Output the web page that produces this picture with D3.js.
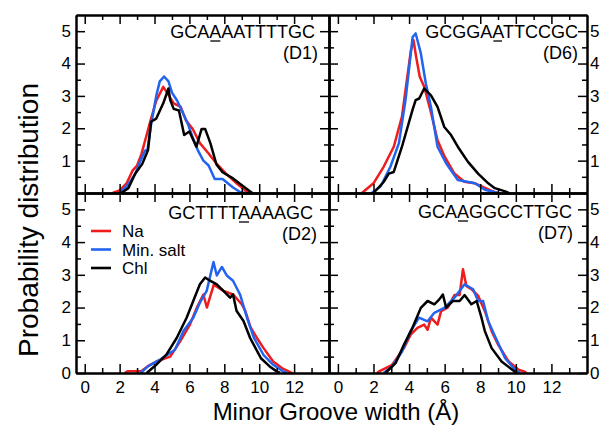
<!DOCTYPE html>
<html>
<head>
<meta charset="utf-8">
<script src="https://cdn.jsdelivr.net/npm/d3@7"></script>
<style>
  body { margin: 0; background: #fff; }
  text { font-family: "Liberation Sans", Arial, sans-serif; fill: #000; }
</style>
</head>
<body>
<div id="chart"></div>
<script>
// minor groove width (Å) vs probability
const d1Na = [[1.6,0],[2.0,0.08],[2.4,0.3],[2.75,0.7],[3.0,0.85],[3.25,1.2],[3.5,1.7],[3.75,2.2],[4.1,2.85],[4.5,3.28],[4.8,3.03],[5.1,2.77],[5.5,2.66],[5.8,2.25],[6.2,1.97],[6.6,1.54],[7.1,1.22],[7.55,0.91],[8.1,0.6],[8.7,0.3],[9.3,0.04],[9.6,0]];
const d1Min = [[2.0,0],[2.3,0.15],[2.6,0.35],[2.9,0.6],[3.2,1.0],[3.45,1.3],[3.6,1.35],[3.8,2.1],[4.1,3.0],[4.3,3.45],[4.55,3.6],[4.8,3.45],[5.0,3.1],[5.3,2.85],[5.6,2.5],[5.9,2.15],[6.2,1.7],[6.5,1.3],[6.8,1.0],[7.1,0.85],[7.45,0.43],[7.9,0.43],[8.5,0.17],[8.9,0.03],[9.2,0]];
const d1Chl = [[2.1,0],[2.5,0.15],[2.9,0.6],[3.3,0.9],[3.63,1.33],[3.8,2.2],[4.1,2.3],[4.5,2.77],[4.8,3.23],[4.9,2.87],[5.1,2.6],[5.4,2.55],[5.7,1.79],[6.0,1.9],[6.4,1.43],[6.7,1.98],[6.9,1.98],[7.2,1.54],[7.55,0.88],[7.9,0.64],[8.5,0.45],[9.1,0.2],[9.6,0]];

const d6Na = [[1.35,0],[2.0,0.3],[2.57,0.81],[3.14,1.43],[3.6,2.36],[3.9,3.59],[4.1,4.4],[4.25,4.72],[4.4,4.2],[4.6,3.59],[4.85,3.28],[5.2,2.56],[5.6,1.63],[6.0,1.12],[6.55,0.6],[7.1,0.35],[7.7,0.3],[8.3,0.15],[8.8,0.03],[9.0,0]];
const d6Min = [[1.9,0],[2.4,0.2],[2.95,0.81],[3.43,1.54],[3.8,2.87],[4.2,4.82],[4.37,4.93],[4.66,4.32],[4.94,3.39],[5.23,2.66],[5.6,1.43],[6.08,0.92],[6.74,0.4],[7.7,0.3],[8.26,0.1],[9.0,0]];
const d6Chl = [[2.0,0],[2.57,0.34],[2.86,0.6],[3.14,0.65],[3.6,1.43],[4.19,2.56],[4.37,2.87],[4.57,2.92],[4.85,3.23],[5.23,3.02],[5.6,2.66],[5.98,2.04],[6.36,1.79],[6.74,1.43],[7.3,0.97],[7.88,0.6],[8.45,0.3],[8.82,0.15],[9.4,0.05],[9.6,0]];

const d2Na = [[2.3,0],[2.45,0.05],[3.26,0.06],[3.6,0.2],[4.1,0.35],[4.9,0.5],[5.46,0.96],[6.03,1.48],[6.42,1.99],[6.8,2.4],[7.0,2.0],[7.4,2.7],[7.95,2.51],[8.5,2.4],[9.0,2.1],[9.2,1.9],[9.5,1.4],[9.87,1.07],[10.25,0.76],[10.8,0.35],[11.3,0.15],[11.8,0.02],[11.9,0]];
const d2Min = [[3.2,0],[3.64,0.21],[4.3,0.4],[5.17,0.71],[5.66,1.28],[6.22,1.69],[6.6,2.15],[6.99,2.51],[7.38,3.39],[7.57,2.98],[7.86,3.24],[8.14,2.98],[8.5,2.82],[8.9,2.4],[9.3,1.69],[9.7,1.07],[10.25,0.55],[10.8,0.25],[11.4,0.04],[11.6,0]];
const d2Chl = [[3.55,0],[4.12,0.26],[4.69,0.57],[5.27,1.07],[5.84,1.69],[6.22,2.2],[6.6,2.71],[6.9,2.92],[7.18,2.82],[7.57,2.71],[7.95,2.51],[8.33,2.3],[8.5,2.4],[8.7,1.9],[9.1,1.59],[9.48,1.07],[10.1,0.45],[10.6,0.2],[11.0,0.05],[11.2,0]];

const d7Na = [[2.2,0],[2.29,0.04],[3.05,0.25],[3.71,0.76],[4.09,1.17],[4.47,1.38],[4.85,1.48],[5.04,1.32],[5.23,1.69],[5.6,1.48],[5.8,1.89],[6.17,2.0],[6.55,2.38],[6.84,2.38],[7.03,3.17],[7.22,2.66],[7.5,2.56],[7.88,2.36],[8.26,1.89],[8.64,1.28],[9.0,0.87],[9.6,0.35],[10.15,0.1],[10.5,0.04],[10.6,0]];
const d7Min = [[2.57,0],[3.05,0.2],[3.6,0.65],[4.09,1.28],[4.56,1.69],[5.04,1.58],[5.42,1.84],[6.0,2.0],[6.55,2.3],[7.12,2.71],[7.6,2.56],[7.88,2.2],[8.16,2.2],[8.45,1.58],[8.83,1.12],[9.4,0.45],[9.96,0.1],[10.25,0]];
const d7Chl = [[2.67,0],[3.24,0.3],[3.71,0.86],[4.19,1.38],[4.66,1.99],[5.04,2.2],[5.42,2.1],[5.7,2.25],[5.9,2.4],[6.08,2.0],[6.46,2.2],[6.84,2.2],[7.12,2.38],[7.5,2.1],[7.8,2.2],[8.07,1.69],[8.26,1.28],[8.64,0.76],[9.2,0.35],[9.8,0.1],[10.05,0]];

const seriesNames = ["Na", "Min. salt", "Chl"];
const colors = ["#ee1c1c", "#2264f0", "#000000"];
const xMajor = [0, 2, 4, 6, 8, 10, 12];
const xMinor = [1, 3, 5, 7, 9, 11, 13];
const yMajorTop = [1, 2, 3, 4, 5];
const yMajorBottom = [0, 1, 2, 3, 4, 5];
const yMinor = [0.5, 1.5, 2.5, 3.5, 4.5];

const width = 603;
const height = 427;

const panels = [
  { seq: "GCAAAATTTTGC", ul: 3, tag: "(D1)", data: [d1Na, d1Min, d1Chl],
    x0: 76, x1: 329, y0: 15, y1: 193, side: "left", yTicks: yMajorTop, showX: false,
    seqX: 315, seqY: 38, tagX: 318, tagY: 59 },
  { seq: "GCGGAATTCCGC", ul: 5, tag: "(D6)", data: [d6Na, d6Min, d6Chl],
    x0: 329, x1: 587, y0: 15, y1: 193, side: "right", yTicks: yMajorTop, showX: false,
    seqX: 578, seqY: 38, tagX: 578, tagY: 59 },
  { seq: "GCTTTTAAAAGC", ul: 6, tag: "(D2)", data: [d2Na, d2Min, d2Chl],
    x0: 76, x1: 329, y0: 193, y1: 373, side: "left", yTicks: yMajorBottom, showX: true,
    seqX: 313, seqY: 219, tagX: 317, tagY: 240, legend: true },
  { seq: "GCAAGGCCTTGC", ul: 3, tag: "(D7)", data: [d7Na, d7Min, d7Chl],
    x0: 329, x1: 587, y0: 193, y1: 373, side: "right", yTicks: yMajorBottom, showX: true,
    seqX: 572, seqY: 218, tagX: 573, tagY: 239 },
];

const svg = d3
  .select("#chart")
  .append("svg")
  .attr("width", width)
  .attr("height", height)
  .attr("viewBox", [0, 0, width, height]);

function addAxis(axis, tx, ty) {
  const g = svg
    .append("g")
    .attr("transform", `translate(${tx},${ty})`)
    .call(axis)
    .attr("font-family", null)
    .attr("font-size", null);
  g.select(".domain").attr("stroke", "#000").attr("stroke-width", 2);
  g.selectAll(".tick line").attr("stroke", "#000").attr("stroke-width", 1.5);
  g.selectAll(".tick text").attr("font-size", 17).attr("fill", "#000");
  return g;
}

panels.forEach((p) => {
  const x = d3.scaleLinear([-0.5, 14], [p.x0, p.x1]);
  const y = d3.scaleLinear([0, 5.5], [p.y1, p.y0]);

  // curves first, frame on top
  const line = d3
    .line()
    .x((d) => x(d[0]))
    .y((d) => y(d[1]));
  p.data.forEach((s, i) => {
    svg
      .append("path")
      .attr("fill", "none")
      .attr("stroke", colors[i])
      .attr("stroke-width", 2.5)
      .attr("stroke-linejoin", "round")
      .attr("d", line(s));
  });

  // x ticks bottom and top
  addAxis(d3.axisBottom(x).tickValues(xMinor).tickSize(-5).tickSizeOuter(0).tickFormat(""), 0, p.y1);
  addAxis(
    d3.axisBottom(x).tickValues(xMajor).tickSize(-9).tickSizeOuter(0).tickPadding(8)
      .tickFormat(p.showX ? d3.format("d") : ""),
    0, p.y1
  );
  addAxis(d3.axisTop(x).tickValues(xMinor).tickSize(-5).tickSizeOuter(0).tickFormat(""), 0, p.y0);
  addAxis(d3.axisTop(x).tickValues(xMajor).tickSize(-9).tickSizeOuter(0).tickFormat(""), 0, p.y0);

  // y ticks left and right
  addAxis(d3.axisLeft(y).tickValues(yMinor).tickSize(-5).tickSizeOuter(0).tickFormat(""), p.x0, 0);
  addAxis(
    d3.axisLeft(y).tickValues(p.yTicks).tickSize(-9).tickSizeOuter(0).tickPadding(5)
      .tickFormat(p.side === "left" ? d3.format("d") : ""),
    p.x0, 0
  );
  addAxis(d3.axisRight(y).tickValues(yMinor).tickSize(-5).tickSizeOuter(0).tickFormat(""), p.x1, 0);
  addAxis(
    d3.axisRight(y).tickValues(p.yTicks).tickSize(-9).tickSizeOuter(0).tickPadding(3)
      .tickFormat(p.side === "right" ? d3.format("d") : ""),
    p.x1, 0
  );

  // sequence label with underlined base
  const t = svg
    .append("text")
    .attr("x", p.seqX)
    .attr("y", p.seqY)
    .attr("text-anchor", "end")
    .attr("font-size", 18)
    .text(p.seq);
  const node = t.node();
  const full = node.getComputedTextLength();
  const start = node.getSubStringLength(0, p.ul);
  const w = node.getSubStringLength(p.ul, 1);
  svg
    .append("line")
    .attr("x1", p.seqX - full + start + 1)
    .attr("x2", p.seqX - full + start + w - 1)
    .attr("y1", p.seqY + 3)
    .attr("y2", p.seqY + 3)
    .attr("stroke", "#000")
    .attr("stroke-width", 1.3);

  svg
    .append("text")
    .attr("x", p.tagX)
    .attr("y", p.tagY)
    .attr("text-anchor", "end")
    .attr("font-size", 18)
    .text(p.tag);

  if (p.legend) {
    seriesNames.forEach((name, i) => {
      const ly = 231 + i * 18.5;
      svg
        .append("line")
        .attr("x1", 91)
        .attr("x2", 111)
        .attr("y1", ly)
        .attr("y2", ly)
        .attr("stroke", colors[i])
        .attr("stroke-width", 2.6);
      svg
        .append("text")
        .attr("x", 122)
        .attr("y", ly + 6)
        .attr("font-size", 17)
        .text(name);
    });
  }
});

// axis titles
svg
  .append("text")
  .attr("x", 336)
  .attr("y", 420)
  .attr("text-anchor", "middle")
  .attr("font-size", 24)
  .text("Minor Groove width (Å)");

svg
  .append("text")
  .attr("transform", "translate(38,220) rotate(-90)")
  .attr("text-anchor", "middle")
  .attr("font-size", 28)
  .text("Probability distribution");
</script>
</body>
</html>
